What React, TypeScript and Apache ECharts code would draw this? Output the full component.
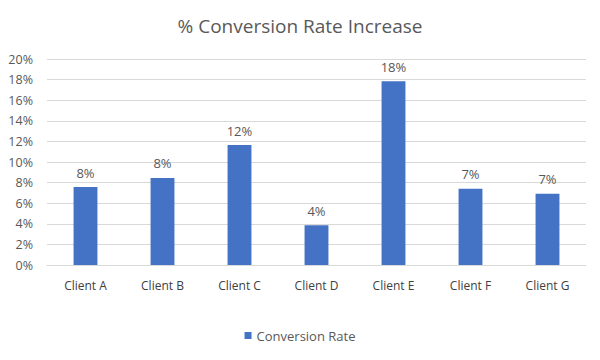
import React, { useEffect, useRef } from "react";
import * as echarts from "echarts";

const categories = ["Client A", "Client B", "Client C", "Client D", "Client E", "Client F", "Client G"];
const conversionRate = [7.57, 8.45, 11.65, 3.85, 17.83, 7.41, 6.92];
const seriesName = "Conversion Rate";
const titleText = "% Conversion Rate Increase";

export default function App() {
  const ref = useRef<HTMLDivElement>(null);
  useEffect(() => {
    if (!ref.current) return;
    const chart = echarts.init(ref.current, undefined, { renderer: "svg" });
    const font = "Open Sans";
    chart.setOption({
      animation: false,
      backgroundColor: "#ffffff",
      title: {
        text: titleText,
        left: "center",
        top: 11,
        textStyle: { fontFamily: font, fontSize: 19, fontWeight: "normal", color: "#595959" },
      },
      legend: {
        bottom: 13,
        left: "center",
        itemWidth: 7,
        itemHeight: 7,
        icon: "rect",
        itemGap: 10,
        itemStyle: {},
        textStyle: { fontFamily: font, fontSize: 13, color: "#595959" },
        data: [seriesName],
      },
      grid: { left: 47, right: 14, top: 59, bottom: 95, containLabel: false },
      xAxis: {
        type: "category",
        data: categories,
        axisLine: { lineStyle: { color: "#d9d9d9" } },
        axisTick: { show: false },
        axisLabel: { fontFamily: font, fontSize: 12, color: "#404040", margin: 14 },
      },
      yAxis: {
        type: "value",
        min: 0,
        max: 20,
        interval: 2,
        axisLine: { show: false },
        axisTick: { show: false },
        splitLine: { lineStyle: { color: "#d9d9d9" } },
        axisLabel: {
          fontFamily: font,
          fontSize: 12.5,
          color: "#595959",
          margin: 14,
          formatter: (v: number) => `${v}%`,
        },
      },
      series: [
        {
          name: seriesName,
          type: "bar",
          data: conversionRate,
          barWidth: "31%",
          itemStyle: { color: "#4472c4" },
          label: {
            show: true,
            position: "top",
            distance: 8,
            fontFamily: font,
            fontSize: 13,
            color: "#595959",
            formatter: (p: any) => `${Math.round(p.value)}%`,
          },
        },
      ],
    });
    return () => chart.dispose();
  }, []);
  return <div ref={ref} style={{ width: 600, height: 360, position: "absolute", left: 0, top: 0 }} />;
}
